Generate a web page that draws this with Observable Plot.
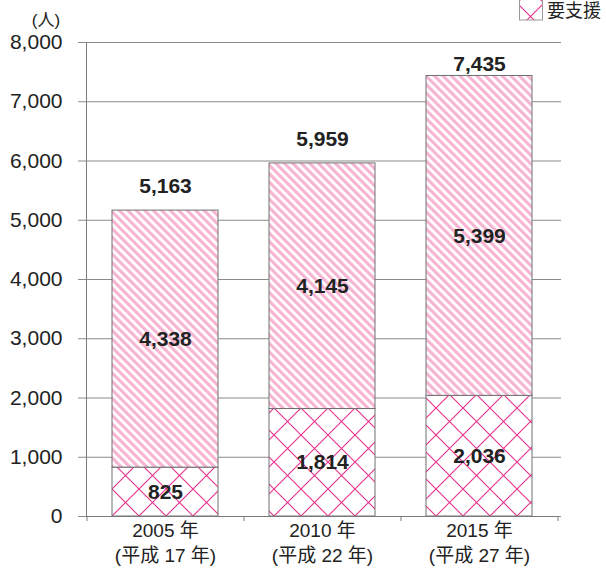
<!DOCTYPE html>
<html><head><meta charset="utf-8">
<script src="https://cdn.jsdelivr.net/npm/d3@7"></script>
<script src="https://cdn.jsdelivr.net/npm/@observablehq/plot@0.6"></script>
<style>body{margin:0;background:#fff;} #chart svg{display:block;}</style>
</head><body><div id="chart"></div>
<script>
const years = ["2005 年\n(平成 17 年)", "2010 年\n(平成 22 年)", "2015 年\n(平成 27 年)"];
const shienValues = [825, 1814, 2036];     // 要支援
const kaigoValues = [4338, 4145, 5399];    // 要介護
const totalValues = [5163, 5959, 7435];
const yTicks = [0, 1000, 2000, 3000, 4000, 5000, 6000, 7000, 8000];
const seriesNames = ["要支援", "要介護"];
const unitLabel = "(人)";

const patternOf = {"要支援": "url(#hatch)", "要介護": "url(#stripes)"};
const rows = [];
years.forEach((yr, i) => {
  rows.push({year: yr, series: seriesNames[0], value: shienValues[i]});
  rows.push({year: yr, series: seriesNames[1], value: kaigoValues[i]});
});
const totals = years.map((yr, i) => ({year: yr, total: totalValues[i]}));
const fmt = d3.format(",");
const font = "'Liberation Sans', 'Noto Sans CJK JP', sans-serif";

const plot = Plot.plot({
  width: 606, height: 571,
  marginLeft: 86, marginRight: 49, marginTop: 42, marginBottom: 55,
  style: {fontFamily: font, fontSize: "20px", color: "#222", background: "#fff"},
  x: {domain: years, paddingInner: 0.325, paddingOuter: 0.1625, label: null},
  y: {domain: [0, 8000], label: null},
  color: {type: "identity"},
  marks: [
    Plot.ruleY(yTicks, {stroke: "#8a8a8a", strokeWidth: 1, insetLeft: -8, insetRight: -4}),
    Plot.frame({anchor: "left", stroke: "#7a7a7a"}),
    Plot.barY(rows, Plot.stackY({x: "year", y: "value", fill: d => patternOf[d.series], stroke: "#707070", strokeWidth: 1})),
    Plot.ruleX(years, {x: d => d, dx: -78.5, y1: 0, y2: 0, insetBottom: -5, stroke: "#7a7a7a"}),
    Plot.ruleX(years.slice(-1), {x: d => d, dx: 78.5, y1: 0, y2: 0, insetBottom: -5, stroke: "#7a7a7a"}),
    Plot.text(rows, Plot.stackY({x: "year", y: "value", text: d => fmt(d.value), fontSize: 21, fontWeight: "bold", fill: "#222"})),
    Plot.text(totals.slice(0, 2), {x: "year", y: "total", text: d => fmt(d.total), dy: -24, fontSize: 21, fontWeight: "bold", fill: "#222"}),
    Plot.text(totals.slice(2), {x: "year", y: "total", text: d => fmt(d.total), dy: -12, fontSize: 21, fontWeight: "bold", fill: "#222"}),
    Plot.axisY({ticks: yTicks, tickSize: 0, tickPadding: 24, tickFormat: d => fmt(d), fontSize: 21, label: null}),
    Plot.axisX({tickSize: 0, tickPadding: 3, fontSize: 19, lineHeight: 1.32, label: null}),
    Plot.ruleY([0], {stroke: "#7a7a7a"})
  ]
});

const svg = d3.select(plot);
const defs = svg.insert("defs", ":first-child");
const hatch = defs.append("pattern").attr("id", "hatch").attr("patternUnits", "userSpaceOnUse")
  .attr("width", 27).attr("height", 27).attr("x", 112).attr("y", 516);
hatch.append("rect").attr("width", 27).attr("height", 27).attr("fill", "#fff");
hatch.append("path").attr("d", "M0,0L27,27M27,0L0,27M-1,26L1,28M26,-1L28,1M-1,1L1,-1M26,28L28,26")
  .attr("stroke", "#e8308c").attr("stroke-width", 1.1).attr("fill", "none");
const stripes = defs.append("pattern").attr("id", "stripes").attr("patternUnits", "userSpaceOnUse")
  .attr("width", 6).attr("height", 6).attr("patternTransform", "rotate(-45)");
stripes.append("rect").attr("width", 6).attr("height", 6).attr("fill", "#fff");
stripes.append("rect").attr("width", 3.2).attr("height", 6).attr("fill", "#f6b6d3");

// legend
const lg = svg.append("g").attr("font-family", font).attr("font-size", 18).attr("fill", "#222").attr("text-anchor", "start");
lg.append("rect").attr("x", 519.5).attr("y", -1).attr("width", 23).attr("height", 21)
  .attr("fill", "url(#hatch)").attr("stroke", "#999");
lg.append("text").attr("x", 547).attr("y", 11).attr("dy", "0.35em").attr("text-anchor", "start").text(seriesNames[0]);
// unit label
svg.append("text").attr("x", 46).attr("y", 20).attr("dy", "0.35em").attr("text-anchor", "middle")
  .attr("font-family", font).attr("font-size", 17).attr("fill", "#222").text(unitLabel);

document.getElementById("chart").appendChild(plot);
</script>
</body></html>
